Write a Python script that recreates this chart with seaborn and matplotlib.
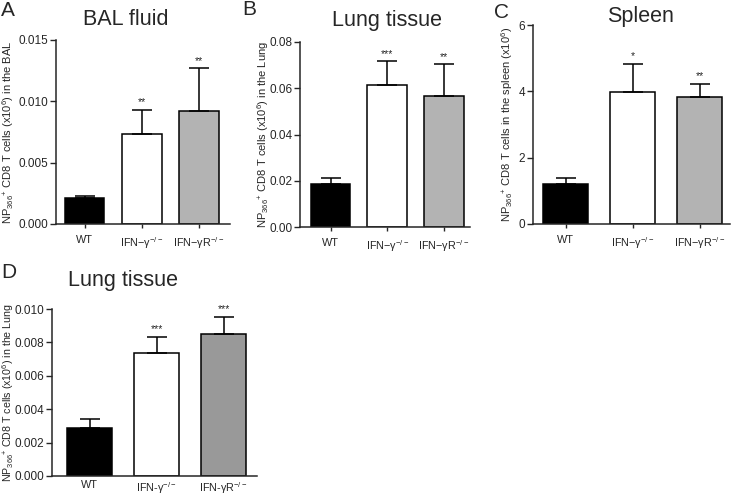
import matplotlib
matplotlib.use("Agg")
import matplotlib.pyplot as plt
import seaborn as sns
import numpy as np

# groups
genotypes_abc = ["WT", "IFN\u2212\u03b3$^{\u2212/\u2212}$", "IFN\u2212\u03b3R$^{\u2212/\u2212}$"]
genotypes_d = ["WT", "IFN-\u03b3$^{-/-}$", "IFN-\u03b3R$^{-/-}$"]

# means and upper error (SEM) per panel
bal_mean = [0.0021, 0.0073, 0.0092]
bal_err = [0.00015, 0.0020, 0.0035]
bal_stars = ["", "**", "**"]

lung_mean = [0.0185, 0.0613, 0.0565]
lung_err = [0.0025, 0.0104, 0.0140]
lung_stars = ["", "***", "**"]

spleen_mean = [1.20, 3.97, 3.84]
spleen_err = [0.20, 0.85, 0.38]
spleen_stars = ["", "*", "**"]

lung2_mean = [0.00285, 0.00737, 0.00848]
lung2_err = [0.00055, 0.00093, 0.00102]
lung2_stars = ["", "***", "***"]

sns.set_style("ticks")
plt.rcParams["font.family"] = ["Liberation Sans", "DejaVu Sans"]
plt.rcParams["mathtext.fontset"] = "custom"
plt.rcParams["mathtext.rm"] = "Liberation Sans"
plt.rcParams["mathtext.it"] = "Liberation Sans"

W, H = 733, 496
fig = plt.figure(figsize=(W / 100, H / 100), dpi=100)


def add_ax(x0, x1, ytop, ybot):
    return fig.add_axes([x0 / W, 1 - ybot / H, (x1 - x0) / W, (ybot - ytop) / H])


def panel(ax, labels, means, errs, stars, colors, ylim, yticks, fmt, ylabel,
          xlim, width, star_off, label_x, xtick_len, xpad, label_size=8):
    sns.barplot(x=labels, y=means, hue=labels, palette=colors, legend=False,
                ax=ax, width=width, edgecolor="black", linewidth=1.1, saturation=1)
    ax.errorbar(range(len(means)), means, yerr=[np.zeros(len(errs)), errs],
                fmt="none", ecolor="black", elinewidth=1.1, capsize=7, capthick=1.1)
    for i, (m, e, s) in enumerate(zip(means, errs, stars)):
        if s:
            ax.text(i, m + e + star_off, s, ha="center", va="bottom", fontsize=7.5)
    ax.set_ylim(*ylim)
    ax.set_xlim(*xlim)
    ax.set_yticks(yticks)
    ax.set_yticklabels([fmt.format(t) for t in yticks], fontsize=8.5)
    ax.tick_params(axis="x", labelsize=7.8, length=xtick_len, width=1, pad=xpad)
    ax.tick_params(axis="y", length=4, width=1, direction="out", pad=1.5)
    ax.set_ylabel(ylabel, fontsize=label_size)
    ax.set_xlabel("")
    # place the y label so its right side sits at a given pixel
    x0 = ax.get_position().x0 * W
    wpx = ax.get_position().width * W
    ax.yaxis.set_label_coords((label_x - x0) / wpx, 0.5)
    for sp in ["left", "bottom"]:
        ax.spines[sp].set_linewidth(1.1)
    sns.despine(ax=ax)


light = ["black", "white", "#b3b3b3"]
dark = ["black", "white", "#999999"]

axA = add_ax(56, 230, 40, 224)
panel(axA, genotypes_abc, bal_mean, bal_err, bal_stars, light, (0, 0.015),
      [0, 0.005, 0.010, 0.015], "{:.3f}",
      "NP$_{366}$$^{+}$ CD8 T cells (x10$^{6}$) in the BAL",
      (-0.5, 2.55), 0.7, 0.0002, 16, 3, 5)

axB = add_ax(300, 470, 42, 227)
panel(axB, genotypes_abc, lung_mean, lung_err, lung_stars, light, (0, 0.08),
      [0, 0.02, 0.04, 0.06, 0.08], "{:.2f}",
      "NP$_{366}$$^{+}$ CD8 T cells (x10$^{6}$) in the Lung",
      (-0.54, 2.46), 0.7, 0.001, 271, 3, 5)

axC = add_ax(533, 730, 25, 224)
panel(axC, genotypes_abc, spleen_mean, spleen_err, spleen_stars, light, (0, 6),
      [0, 2, 4, 6], "{:.0f}",
      "NP$_{366}$$^{+}$ CD8 T cells in the spleen (x10$^{6}$)",
      (-0.49, 2.45), 0.67, 0.08, 515, 3, 5)

axD = add_ax(52, 257, 309, 476)
panel(axD, genotypes_d, lung2_mean, lung2_err, lung2_stars, dark, (0, 0.010),
      [0, 0.002, 0.004, 0.006, 0.008, 0.010], "{:.3f}",
      "NP$_{366}$$^{+}$ CD8 T cells (x10$^{6}$) in the Lung",
      (-0.56, 2.5), 0.67, 0.0002, 16, 0, 3, label_size=7.7)

# panel titles
for title, cx, base in [("BAL fluid", 126, 25), ("Lung tissue", 387, 26),
                        ("Spleen", 640, 22), ("Lung tissue", 123, 286)]:
    fig.text(cx / W, 1 - base / H, title, fontsize=15.5, ha="center", va="baseline")

# panel letters
for letter, x, base in [("A", 1, 16), ("B", 242, 15), ("C", 494, 18), ("D", 1, 278)]:
    fig.text(x / W, 1 - base / H, letter, fontsize=15, ha="left", va="baseline")

fig.savefig("out.png", dpi=100)
